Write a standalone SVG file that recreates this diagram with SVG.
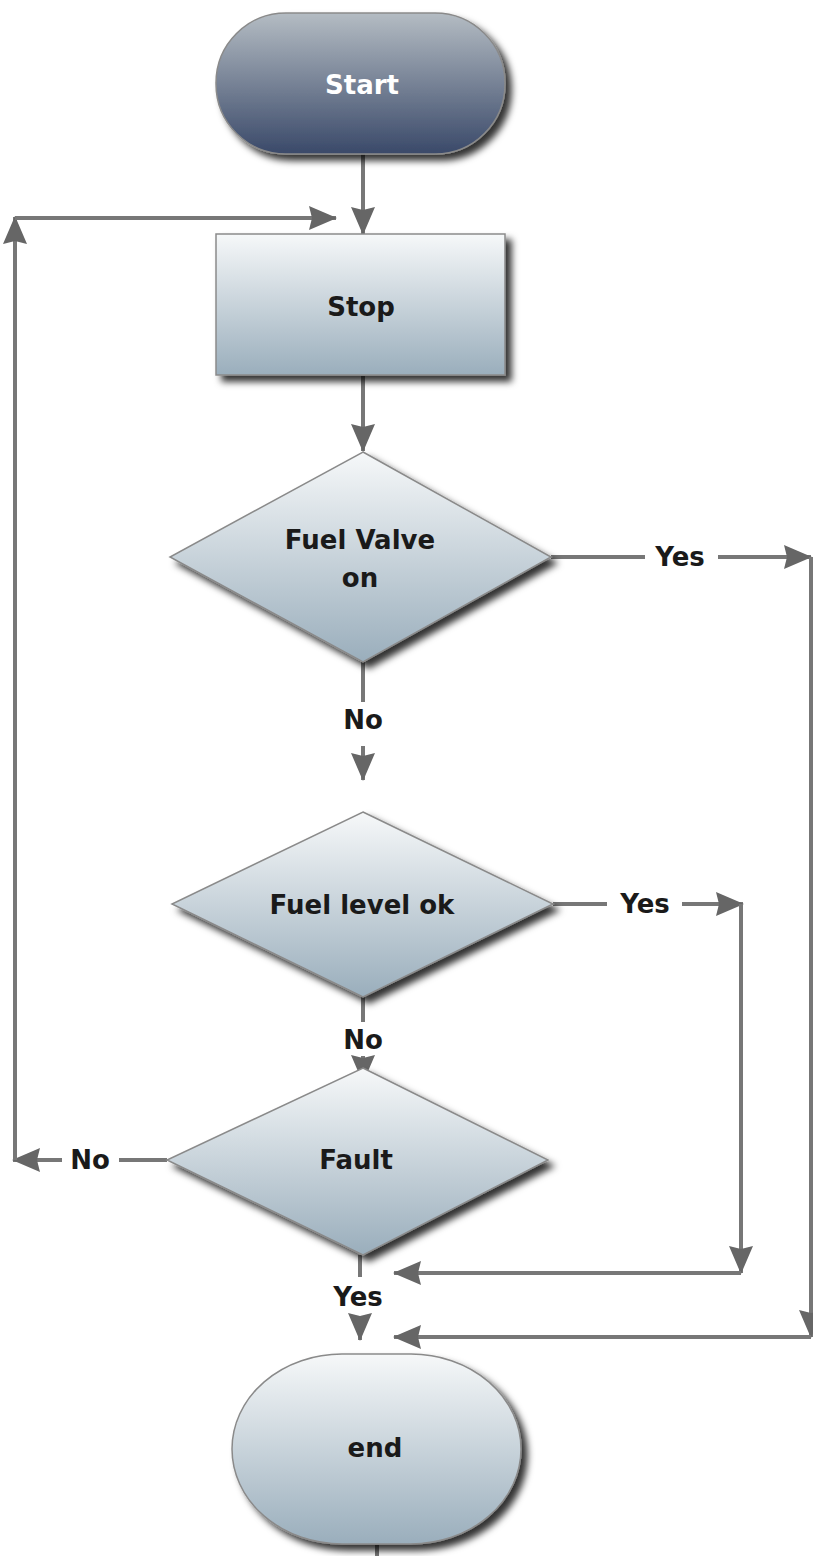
<svg xmlns="http://www.w3.org/2000/svg" width="813" height="1556" viewBox="0 0 813 1556">
<style>
.lbl{font-family:"DejaVu Sans",Verdana,sans-serif;font-weight:bold;font-size:26px;fill:#1a1a1a;text-anchor:middle;dominant-baseline:central}
.wht{fill:#ffffff}
.con{stroke:#777;stroke-width:4;fill:none}
.arr{stroke:#777;stroke-width:4;fill:none;marker-end:url(#ah)}
.shape{stroke:#8a8a8a;stroke-width:1.5;filter:url(#sh)}
</style>
<defs>
<linearGradient id="gDark" x1="0" y1="0" x2="0" y2="1">
<stop offset="0" stop-color="#b4bcc3"/>
<stop offset="1" stop-color="#3a4969"/>
</linearGradient>
<linearGradient id="gLight" x1="0" y1="0" x2="0" y2="1">
<stop offset="0" stop-color="#f6f8f9"/>
<stop offset="1" stop-color="#9aaebc"/>
</linearGradient>
<filter id="sh" x="-10%" y="-10%" width="130%" height="130%">
<feDropShadow dx="6" dy="6" stdDeviation="3.5" flood-color="#000" flood-opacity="0.8"/>
</filter>
<marker id="ah" markerUnits="userSpaceOnUse" markerWidth="28" markerHeight="24" refX="27" refY="12" orient="auto" viewBox="0 0 28 24">
<path d="M0,0 L28,12 L0,24 L3,12 z" fill="#666"/>
</marker>
</defs>
<rect width="813" height="1556" fill="#ffffff"/>

<g id="connectors">
<line class="arr" x1="363" y1="154" x2="363" y2="234"/>
<line class="arr" x1="363" y1="376" x2="363" y2="451"/>
<line class="con" x1="551" y1="557" x2="645" y2="557"/>
<line class="arr" x1="718" y1="557" x2="811" y2="557"/>
<line class="arr" x1="811" y1="557" x2="811" y2="1337"/>
<line class="arr" x1="811" y1="1337" x2="394" y2="1337"/>
<line class="con" x1="363" y1="662" x2="363" y2="702"/>
<line class="arr" x1="363" y1="746" x2="363" y2="780"/>
<line class="con" x1="553" y1="904" x2="607" y2="904"/>
<line class="arr" x1="682" y1="904" x2="743" y2="904"/>
<line class="arr" x1="741" y1="904" x2="741" y2="1273"/>
<line class="arr" x1="741" y1="1273" x2="394" y2="1273"/>
<line class="con" x1="363" y1="997" x2="363" y2="1022"/>
<line class="arr" x1="363" y1="1056" x2="363" y2="1082"/>
<line class="con" x1="167" y1="1160" x2="119" y2="1160"/>
<line class="arr" x1="62" y1="1160" x2="13" y2="1160"/>
<line class="arr" x1="15" y1="1160" x2="15" y2="217"/>
<line class="arr" x1="15" y1="218" x2="336" y2="218"/>
<line class="con" x1="360" y1="1255" x2="360" y2="1277"/>
<line class="arr" x1="360" y1="1316" x2="360" y2="1340"/>
<line class="con" x1="377" y1="1545" x2="377" y2="1556"/>
<text class="lbl" x="680" y="557">Yes</text>
<text class="lbl" x="363" y="720">No</text>
<text class="lbl" x="645" y="904">Yes</text>
<text class="lbl" x="363" y="1040">No</text>
<text class="lbl" x="90" y="1160">No</text>
<text class="lbl" x="358" y="1297">Yes</text>
</g>

<g id="start">
<rect class="shape" x="216" y="13" width="289" height="141" rx="70" ry="70" fill="url(#gDark)"/>
<text class="lbl wht" x="362" y="85">Start</text>
</g>

<g id="stop">
<rect class="shape" x="216" y="234" width="289" height="141" fill="url(#gLight)"/>
<text class="lbl" x="361" y="307">Stop</text>
</g>

<g id="fuel-valve">
<polygon class="shape" points="363,452 551,557 363,662 170,557" fill="url(#gLight)"/>
<text class="lbl" x="360" y="540">Fuel Valve</text>
<text class="lbl" x="360" y="578">on</text>
</g>

<g id="fuel-level">
<polygon class="shape" points="363,812 553,904 363,997 172,904" fill="url(#gLight)"/>
<text class="lbl" x="362" y="905">Fuel level ok</text>
</g>

<g id="fault">
<polygon class="shape" points="363,1068 548,1160 363,1255 167,1160" fill="url(#gLight)"/>
<text class="lbl" x="356" y="1160">Fault</text>
</g>

<g id="end">
<rect class="shape" x="232" y="1354" width="289" height="190" rx="110" ry="95" fill="url(#gLight)"/>
<text class="lbl" x="375" y="1448">end</text>
</g>
</svg>
